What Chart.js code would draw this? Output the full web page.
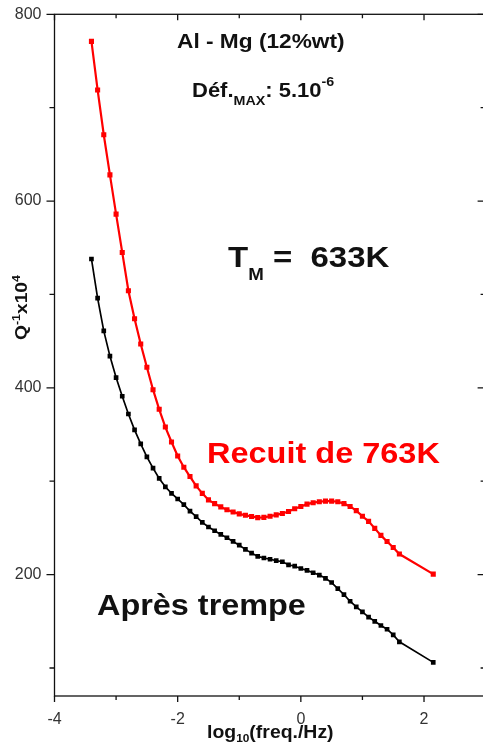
<!DOCTYPE html>
<html>
<head>
<meta charset="utf-8">
<script src="https://cdn.jsdelivr.net/npm/chart.js@4"></script>
<style>
  html, body { margin: 0; padding: 0; background: #fff; overflow: hidden; }
  #wrap { width: 490px; height: 746px; }
</style>
</head>
<body>
<div id="wrap"><canvas id="dampingChart" width="490" height="746"></canvas></div>
<script>
// log10 of the measuring frequency (Hz)
const logFreq = [
  -3.4, -3.3, -3.2, -3.1, -3.0, -2.9, -2.8, -2.7, -2.6, -2.5,
  -2.4, -2.3, -2.2, -2.1, -2.0, -1.9, -1.8, -1.7, -1.6, -1.5,
  -1.4, -1.3, -1.2, -1.1, -1.0, -0.9, -0.8, -0.7, -0.6, -0.5,
  -0.4, -0.3, -0.2, -0.1, 0.0, 0.1, 0.2, 0.3, 0.4, 0.5,
  0.6, 0.7, 0.8, 0.9, 1.0, 1.1, 1.2, 1.3, 1.4, 1.5,
  1.6, 2.15
];

// Q^-1 x 10^4 after annealing at 763K
const recuitQ = [
  771, 719, 671, 628, 586, 545, 504, 474, 447, 422,
  398, 377, 358, 342, 327, 315, 305, 295, 287, 280,
  276, 272.5, 269.5, 267, 265, 263.5, 262.3, 261, 261.3, 262.5,
  264, 265.5, 267.5, 270.5, 273, 275.5, 277, 278, 278.7, 278.7,
  278, 276, 273, 268.5, 262.5, 257, 249.5, 242, 235.5, 229,
  222, 200.5
];

// Q^-1 x 10^4 after quenching
const trempeQ = [
  538, 496, 461, 434, 411, 391, 372, 355, 340, 326,
  314, 303, 294, 287, 281, 275, 268, 262, 256, 251,
  247, 243, 239.5, 235.5, 231.5, 227, 223, 219.5, 217.8, 216.4,
  215, 213.8, 210.5, 209, 206.5, 204.5, 202, 199.5, 196, 191.5,
  185, 178.5, 171.5, 165.5, 160, 154.5, 150, 145.5, 141.5, 135.5,
  128, 106
];

const xTicks = [-4, -3, -2, -1, 0, 1, 2, 3];
const yTicks = [100, 200, 300, 400, 500, 600, 700, 800];

const FONT = '"Liberation Sans", Arial, sans-serif';

function toPoints(ys) {
  return logFreq.map((x, i) => ({ x: x, y: ys[i] }));
}

// fixed axis size, and no extra room reserved for the end labels
function fixAxis(s, size) {
  if (s.isHorizontal()) s.height = size; else s.width = size;
  s.paddingTop = 0;
  s.paddingBottom = 0;
  s.paddingLeft = 0;
  s.paddingRight = 0;
}

// draws a run of text pieces (sub/superscripts via dy), stretched horizontally
function drawRich(ctx, x, y, parts, stretch, color) {
  ctx.save();
  ctx.translate(x, y);
  ctx.scale(stretch, 1);
  ctx.fillStyle = color;
  ctx.textBaseline = 'alphabetic';
  ctx.textAlign = 'left';
  let cx = 0;
  parts.forEach(p => {
    ctx.font = 'bold ' + p.size + 'px ' + FONT;
    ctx.fillText(p.text, cx, p.dy || 0);
    cx += ctx.measureText(p.text).width;
  });
  ctx.restore();
}

// box frame with outward ticks on bottom/left and inward ticks on top/right
const framePlugin = {
  id: 'frame',
  afterDatasetsDraw(chart) {
    const { ctx, chartArea: a, scales } = chart;
    ctx.save();
    ctx.strokeStyle = '#111';
    ctx.lineWidth = 1.3;
    ctx.strokeRect(a.left, a.top, a.right - a.left, a.bottom - a.top);
    ctx.beginPath();
    xTicks.forEach(v => {
      const px = scales.x.getPixelForValue(v);
      const len = v % 2 === 0 ? 6 : 4;
      ctx.moveTo(px, a.bottom);
      ctx.lineTo(px, a.bottom + len);
      ctx.moveTo(px, a.top);
      ctx.lineTo(px, a.top + len);
    });
    yTicks.forEach(v => {
      const py = scales.y.getPixelForValue(v);
      const len = v % 200 === 0 ? 8 : 5;
      ctx.moveTo(a.left, py);
      ctx.lineTo(a.left - len, py);
      ctx.moveTo(a.right, py);
      ctx.lineTo(a.right - len, py);
    });
    ctx.stroke();
    ctx.restore();
  }
};

const labelPlugin = {
  id: 'labels',
  afterDraw(chart) {
    const ctx = chart.ctx;
    drawRich(ctx, 177, 48, [{ text: 'Al - Mg (12%wt)', size: 21 }], 1.08, '#111');
    drawRich(ctx, 192, 97, [
      { text: 'Déf.', size: 20 },
      { text: 'MAX', size: 13, dy: 8 },
      { text: ': 5.10', size: 20 },
      { text: '-6', size: 13, dy: -11 }
    ], 1.1, '#111');
    drawRich(ctx, 228, 267, [
      { text: 'T', size: 30 },
      { text: 'M', size: 17, dy: 13 },
      { text: ' =  633K', size: 30 }
    ], 1.1, '#111');
    drawRich(ctx, 207, 463, [{ text: 'Recuit de 763K', size: 29 }], 1.12, '#ff0000');
    drawRich(ctx, 97, 615, [{ text: 'Après trempe', size: 30 }], 1.08, '#111');

    // axis titles
    drawRich(ctx, 207, 738, [
      { text: 'log', size: 18 },
      { text: '10', size: 11, dy: 4 },
      { text: '(freq./Hz)', size: 18 }
    ], 1.08, '#111');
    ctx.save();
    ctx.translate(27, 340);
    ctx.rotate(-Math.PI / 2);
    drawRich(ctx, 0, 0, [
      { text: 'Q', size: 17 },
      { text: '-1', size: 11, dy: -7 },
      { text: 'x10', size: 17 },
      { text: '4', size: 11, dy: -7 }
    ], 1.13, '#111');
    ctx.restore();
  }
};

new Chart(document.getElementById('dampingChart'), {
  type: 'line',
  data: {
    datasets: [
      {
        label: 'Recuit de 763K',
        data: toPoints(recuitQ),
        borderColor: '#ff0000',
        backgroundColor: '#ff0000',
        borderWidth: 2.2,
        pointStyle: 'rect',
        pointRadius: 3.6,
        pointBorderWidth: 0,
        tension: 0
      },
      {
        label: 'Après trempe',
        data: toPoints(trempeQ),
        borderColor: '#000',
        backgroundColor: '#000',
        borderWidth: 1.7,
        pointStyle: 'rect',
        pointRadius: 3.3,
        pointBorderWidth: 0,
        tension: 0
      }
    ]
  },
  options: {
    responsive: false,
    animation: false,
    layout: { padding: { left: 0, right: 4.4, top: 14.3, bottom: 0 } },
    plugins: {
      legend: { display: false },
      tooltip: { enabled: false }
    },
    scales: {
      x: {
        type: 'linear',
        min: -4,
        max: 3,
        afterFit: s => fixAxis(s, 50),
        grid: { display: false, drawTicks: false },
        border: { display: false },
        ticks: {
          stepSize: 1,
          autoSkip: false,
          maxRotation: 0,
          padding: 14,
          color: '#333',
          font: { family: FONT, size: 16 },
          callback: v => (v % 2 === 0 && v < 3 ? v : '')
        }
      },
      y: {
        min: 70,
        max: 800,
        afterFit: s => fixAxis(s, 54.5),
        grid: { display: false, drawTicks: false },
        border: { display: false },
        ticks: {
          stepSize: 100,
          autoSkip: false,
          padding: 13,
          color: '#333',
          font: { family: FONT, size: 16 },
          callback: v => (v % 200 === 0 ? v : '')
        }
      }
    }
  },
  plugins: [framePlugin, labelPlugin]
});
</script>
</body>
</html>
